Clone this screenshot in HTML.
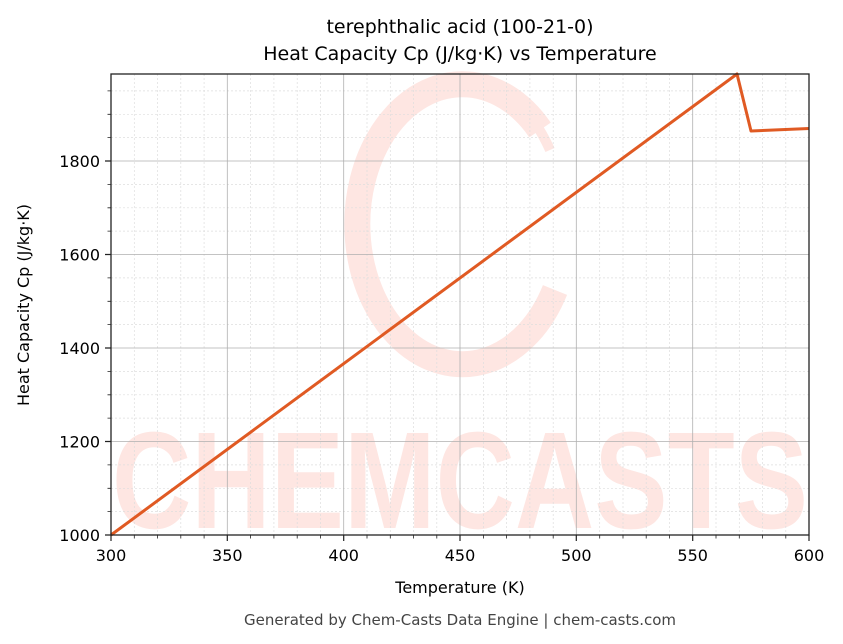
<!DOCTYPE html>
<html><head><meta charset="utf-8"><style>body{margin:0;background:#fff}svg{display:block}</style></head><body>
<svg width="843" height="644" xmlns="http://www.w3.org/2000/svg" font-family="DejaVu Sans, Liberation Sans, sans-serif">
<rect width="843" height="644" fill="#fff"/>
<g fill="#fee6e2">
<text x="112" y="528" font-size="138" font-weight="bold" font-family="Liberation Sans, sans-serif" textLength="696" lengthAdjust="spacingAndGlyphs">CHEMCASTS</text>
</g>
<g fill="none" stroke="#fee6e2">
<path d="M540 130 A105 140 0 1 0 555 290" stroke-width="26"/>
<path d="M420 92 Q510 60 550 150" stroke-width="10"/>
</g>
<g stroke="#ddd" stroke-width="0.7" stroke-dasharray="2,2">
<path d="M134.3 74V535M157.5 74V535M180.8 74V535M204.1 74V535M250.6 74V535M273.9 74V535M297.2 74V535M320.5 74V535M367 74V535M390.3 74V535M413.6 74V535M436.8 74V535M483.4 74V535M506.6 74V535M529.9 74V535M553.2 74V535M599.7 74V535M623 74V535M646.2 74V535M669.5 74V535M716 74V535M739.3 74V535M762.6 74V535M785.8 74V535"/>
<path d="M111 511.6H809M111 488.3H809M111 464.9H809M111 418.1H809M111 394.8H809M111 371.4H809M111 324.6H809M111 301.3H809M111 277.9H809M111 231.1H809M111 207.8H809M111 184.4H809M111 137.6H809M111 114.3H809M111 90.9H809"/>
</g>
<g stroke="#b0b0b0" stroke-width="0.8">
<path d="M227.3 74V535M343.7 74V535M460 74V535M576.3 74V535M692.7 74V535"/>
<path d="M111 441.5H809M111 348H809M111 254.5H809M111 161H809"/>
</g>
<polyline points="111,535 737,74 751,131 809,128.5" fill="none" stroke="#e05a23" stroke-width="3" stroke-linejoin="round"/>
<rect x="111" y="74" width="698" height="461" fill="none" stroke="#222" stroke-width="1.3"/>
<g stroke="#222" stroke-width="1.2">
<path d="M111 535v6M227.3 535v6M343.7 535v6M460 535v6M576.3 535v6M692.7 535v6M809 535v6"/>
<path d="M111 535h-6M111 441.5h-6M111 348h-6M111 254.5h-6M111 161h-6"/>
</g>
<g stroke="#222" stroke-width="0.8">
<path d="M134.3 535v3.5M157.5 535v3.5M180.8 535v3.5M204.1 535v3.5M250.6 535v3.5M273.9 535v3.5M297.2 535v3.5M320.5 535v3.5M367 535v3.5M390.3 535v3.5M413.6 535v3.5M436.8 535v3.5M483.4 535v3.5M506.6 535v3.5M529.9 535v3.5M553.2 535v3.5M599.7 535v3.5M623 535v3.5M646.2 535v3.5M669.5 535v3.5M716 535v3.5M739.3 535v3.5M762.6 535v3.5M785.8 535v3.5"/>
<path d="M111 511.6h-3.5M111 488.3h-3.5M111 464.9h-3.5M111 418.1h-3.5M111 394.8h-3.5M111 371.4h-3.5M111 324.6h-3.5M111 301.3h-3.5M111 277.9h-3.5M111 231.1h-3.5M111 207.8h-3.5M111 184.4h-3.5M111 137.6h-3.5M111 114.3h-3.5M111 90.9h-3.5"/>
</g>
<g font-size="16" fill="#000" text-anchor="middle">
<text x="111" y="561">300</text><text x="227.3" y="561">350</text><text x="343.7" y="561">400</text><text x="460" y="561">450</text><text x="576.3" y="561">500</text><text x="692.7" y="561">550</text><text x="809" y="561">600</text>
</g>
<g font-size="16" fill="#000" text-anchor="end">
<text x="100" y="541">1000</text><text x="100" y="447.5">1200</text><text x="100" y="354">1400</text><text x="100" y="260.5">1600</text><text x="100" y="167">1800</text>
</g>
<text x="460" y="593" font-size="16" text-anchor="middle">Temperature (K)</text>
<text transform="translate(29 305) rotate(-90)" font-size="16" text-anchor="middle">Heat Capacity Cp (J/kg·K)</text>
<text x="460" y="33" font-size="19" text-anchor="middle">terephthalic acid (100-21-0)</text>
<text x="460" y="60" font-size="19" text-anchor="middle">Heat Capacity Cp (J/kg·K) vs Temperature</text>
<text x="460" y="625" font-size="15" fill="#444" text-anchor="middle">Generated by Chem-Casts Data Engine | chem-casts.com</text>
</svg>
</body></html>
